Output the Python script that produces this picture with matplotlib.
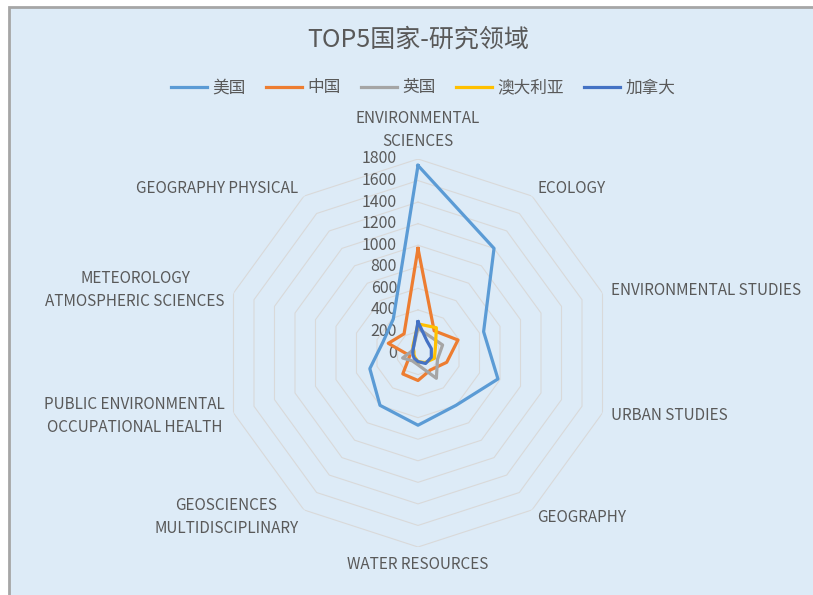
import numpy as np
import matplotlib
matplotlib.use("Agg")
from matplotlib import pyplot as plt
from matplotlib.patches import Rectangle

plt.rcParams['font.family'] = ['Noto Sans CJK SC', 'DejaVu Sans']

# categories, clockwise from the top
categories = ['ENVIRONMENTAL\nSCIENCES', 'ECOLOGY', 'ENVIRONMENTAL STUDIES',
              'URBAN STUDIES', 'GEOGRAPHY', 'WATER RESOURCES',
              'GEOSCIENCES\nMULTIDISCIPLINARY', 'PUBLIC ENVIRONMENTAL\nOCCUPATIONAL HEALTH',
              'METEOROLOGY\nATMOSPHERIC SCIENCES', 'GEOGRAPHY PHYSICAL']

countries = ['美国', '中国', '英国', '澳大利亚', '加拿大']
usa = [1740, 1200, 640, 780, 600, 670, 600, 470, 340, 390]
china = [970, 255, 390, 280, 195, 255, 240, 80, 290, 220]
uk = [230, 190, 240, 190, 290, 110, 90, 150, 60, 70]
australia = [270, 290, 170, 160, 110, 80, 50, 40, 40, 80]
canada = [290, 140, 130, 130, 120, 80, 60, 50, 50, 70]
colors = ['#5B9BD5', '#ED7D31', '#A5A5A5', '#FFC000', '#4472C4']

ticks = list(range(0, 1801, 200))
text_col = '#595959'
bg = '#DDEBF7'

fig = plt.figure(figsize=(8.13, 5.95), dpi=100, facecolor='white')
# chart area with grey border (cut off at right/bottom)
fig.patches.append(Rectangle((9 / 813, -0.05), 1.0, 1 - 7 / 595 + 0.05,
                             transform=fig.transFigure, facecolor=bg,
                             edgecolor='#A6A6A6', linewidth=2, zorder=-1))

ax = fig.add_axes([224 / 813, 48 / 595, 388 / 813, 388 / 595], projection='polar')
ax.set_zorder(2)
ax.set_facecolor('none')
ax.set_theta_zero_location('N')
ax.set_theta_direction(-1)
ax.set_ylim(0, 1800)
ax.grid(False)
ax.spines['polar'].set_visible(False)
ax.set_xticks([])
ax.set_yticks([])

n = len(categories)
theta = np.linspace(0, 2 * np.pi, n, endpoint=False)
theta_c = np.append(theta, theta[0])

# polygon rings
for v in ticks[1:]:
    ax.plot(theta_c, [v] * (n + 1), color='#D9D9D9', linewidth=0.8, zorder=1)

for v in ticks:
    ax.annotate(str(v), xy=(0, v), xytext=(-21, 0), textcoords='offset pixels',
                ha='right', va='center', fontsize=11.5, color=text_col)

for name, vals, c in zip(countries, [usa, china, uk, australia, canada], colors):
    ax.plot(theta_c, vals + vals[:1], color=c, linewidth=2.3, label=name, zorder=3)

for t, lab in zip(theta, categories):
    s, co = np.sin(t), np.cos(t)
    ha = 'left' if s > 0.1 else ('right' if s < -0.1 else 'center')
    va = 'bottom' if co > 0.9 else ('top' if co < -0.9 else 'center')
    ax.text(t, 1885, lab, ha=ha, va=va, multialignment='center',
            fontsize=11, color=text_col, linespacing=1.45)

fig.text(418 / 813, 1 - 40 / 595, 'TOP5国家-研究领域', ha='center', va='center',
         fontsize=18, color=text_col)

fig.legend(loc='center', bbox_to_anchor=(423 / 813, 1 - 88 / 595), ncol=5,
           frameon=False, fontsize=12, handlelength=2.2, handletextpad=0.3,
           columnspacing=1.2, labelcolor=text_col)

fig.savefig('out.png', dpi=100, facecolor='white')
